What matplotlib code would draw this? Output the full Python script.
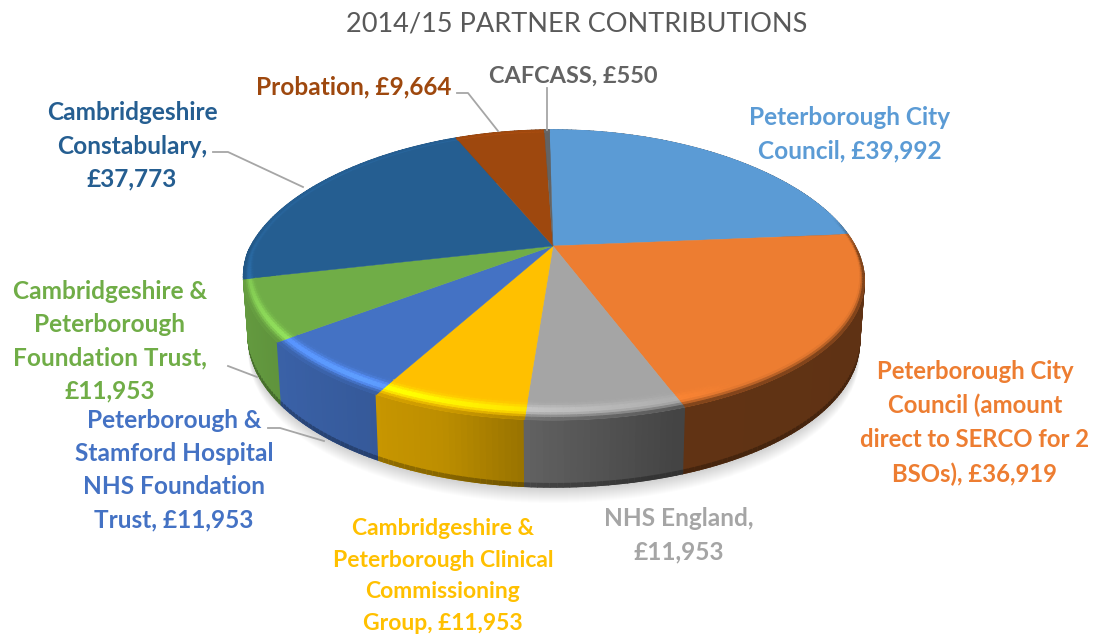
import numpy as np
import matplotlib
matplotlib.use("Agg")
import matplotlib.pyplot as plt
from matplotlib.collections import PolyCollection
from matplotlib.colors import to_rgb
from matplotlib.patches import Polygon

# Partner contributions, clockwise from 12 o'clock
values = [39992, 36919, 11953, 11953, 11953, 11953, 37773, 9664, 550]
colors = ["#5B9BD5", "#ED7D31", "#A5A5A5", "#FFC000", "#4472C4",
          "#70AD47", "#255E91", "#9E480E", "#636363"]
labels = ["Peterborough City\nCouncil, £{}",
          "Peterborough City\nCouncil (amount\ndirect to SERCO for 2\nBSOs), £{}",
          "NHS England,\n£{}",
          "Cambridgeshire &\nPeterborough Clinical\nCommissioning\nGroup, £{}",
          "Peterborough &\nStamford Hospital\nNHS Foundation\nTrust, £{}",
          "Cambridgeshire &\nPeterborough\nFoundation Trust,\n£{}",
          "Cambridgeshire\nConstabulary,\n£{}",
          "Probation, £{}",
          "CAFCASS, £{}"]
label_pos = [(850, 134), (975, 423), (679, 535), (443, 576), (174, 470),
             (110, 341), (132, 146), (354, 87), (573, 76)]
label_sizes = [17.6, 17.2, 17.6, 16.5, 17.6, 17.6, 17.6, 17.6, 16.9]
label_colors = ["#5B9BD5", "#ED7D31", "#A5A5A5", "#FFC000", "#4472C4",
                "#70AD47", "#255E91", "#9E480E", "#636363"]
leaders = [[(457, 93), (468, 93), (498, 131)],
           [(547, 88), (547, 130)],
           [(213, 152), (228, 152), (303, 187)],
           [(228, 366), (257, 377)],
           [(268, 428), (280, 428), (324, 441)]]

# pie geometry in pixels
CX, CY = 553, 246
RX = 305
PERSP = 0.2
A = -90
START = -0.8


def project(theta, r=1.0, lower=False):
    t = np.radians(theta)
    u = r * np.sin(t)
    v = r * np.cos(t)
    d = 1 + PERSP * v
    x = RX * u / d + 10 * np.maximum(-u, 0) * np.maximum(-v, 0)
    y = (A * v + CY) / d + 6 * u * u
    if lower:
        return CX + 0.985 * x, y + 58 - 9 * v
    return CX + x, y


def wall_shade(theta):
    u = np.sin(np.radians(theta))
    return np.interp(u, [-1, -0.8, -0.3, -0.05, 0.33, 1], [0.9, 0.85, 0.74, 0.58, 0.41, 0.4])


fig = plt.figure(figsize=(10.94, 6.39), dpi=100)
ax = fig.add_axes([0, 0, 1, 1])
ax.set_xlim(0, 1094)
ax.set_ylim(639, 0)
ax.axis("off")

edges = START + np.concatenate([[0], np.cumsum(values)]) / np.sum(values) * 360

# soft shadow under the pie
th = np.linspace(0, 360, 361)
bx, by = project(th, lower=True)
for d in range(1, 17):
    ax.add_patch(Polygon(np.column_stack([bx, by + d]), closed=True, fc="black", ec="none",
                         alpha=0.013, zorder=1))

# side wall
wall_items = []
rim_polys, rim_cols = [], []
for i, col in enumerate(colors):
    base = np.array(to_rgb(col))
    angs = np.linspace(edges[i], edges[i + 1], max(2, int(edges[i + 1] - edges[i]) + 2))
    for a0, a1 in zip(angs[:-1], angs[1:]):
        am = (a0 + a1) / 2
        shade = wall_shade(am)
        vm = np.cos(np.radians(am))
        x00, y00 = project(a0)
        x01, y01 = project(a1)
        x10, y10 = project(a0, lower=True)
        x11, y11 = project(a1, lower=True)
        wall_items.append((vm, [(x00, y00), (x01, y01), (x11, y11), (x10, y10)], base * shade))
        # darker lip along the bottom of the wall
        wall_items.append((vm - 1e-4, [(x00 + (x10 - x00) * 0.95, y00 + (y10 - y00) * 0.95),
                                       (x01 + (x11 - x01) * 0.95, y01 + (y11 - y01) * 0.95),
                                       (x11, y11), (x10, y10)], base * shade * 0.72))

        # bevelled rim on the top face
        width = 0.025 + 0.065 * max(-vm, 0)
        glow = np.interp((am - START) % 360, [150, 185, 215, 240, 262, 275], [0, 0.2, 0.42, 0.3, 0.16, 0.08])
        weight = np.clip((0.25 - vm) / 0.25, 0, 1)
        steps = np.linspace(0, 1, 9)
        for s0, s1 in zip(steps[:-1], steps[1:]):
            r0 = 1 - width * (1 - s0)
            r1 = 1 - width * (1 - s1)
            sm = (s0 + s1) / 2
            c = base * (1 + glow * np.exp(-((sm - 0.5) / 0.25) ** 2))
            c = np.clip(c, 0, 1)
            blend = weight * np.clip((sm - 0.62) / 0.38, 0, 1) ** 1.5
            c = c * (1 - blend) + base * shade * blend
            rim_polys.append([project(a0, r0), project(a1, r0), project(a1, r1), project(a0, r1)])
            rim_cols.append(c)

# far pieces first so the nearer wall covers them
wall_items.sort(key=lambda item: -item[0])
wall_polys = [item[1] for item in wall_items]
wall_cols = [item[2] for item in wall_items]
ax.add_collection(PolyCollection(wall_polys, facecolors=wall_cols, edgecolors=wall_cols,
                                 linewidths=1.0, zorder=2))

# top face
for i, col in enumerate(colors):
    angs = np.linspace(edges[i], edges[i + 1], 120)
    x, y = project(angs)
    pts = np.column_stack([np.r_[CX, x], np.r_[CY, y]])
    ax.add_patch(Polygon(pts, closed=True, fc=col, ec=col, lw=0.3, zorder=3))

ax.add_collection(PolyCollection(rim_polys, facecolors=rim_cols, edgecolors=rim_cols,
                                 linewidths=0.7, zorder=4))

for pts in leaders:
    xs, ys = zip(*pts)
    ax.plot(xs, ys, color="#A6A6A6", lw=1.3, zorder=5)

ax.text(577, 24, "2014/15 PARTNER CONTRIBUTIONS", ha="center", va="center",
        fontsize=19.5, color="#595959", family="Lato")

for txt, val, pos, fs, col in zip(labels, values, label_pos, label_sizes, label_colors):
    ax.text(pos[0], pos[1], txt.format(f"{val:,}"), ha="center", va="center", fontsize=fs,
            color=col, family="Lato", fontweight="bold", linespacing=1.54 * 17.6 / fs, zorder=6)

fig.savefig("out.png", dpi=100)
